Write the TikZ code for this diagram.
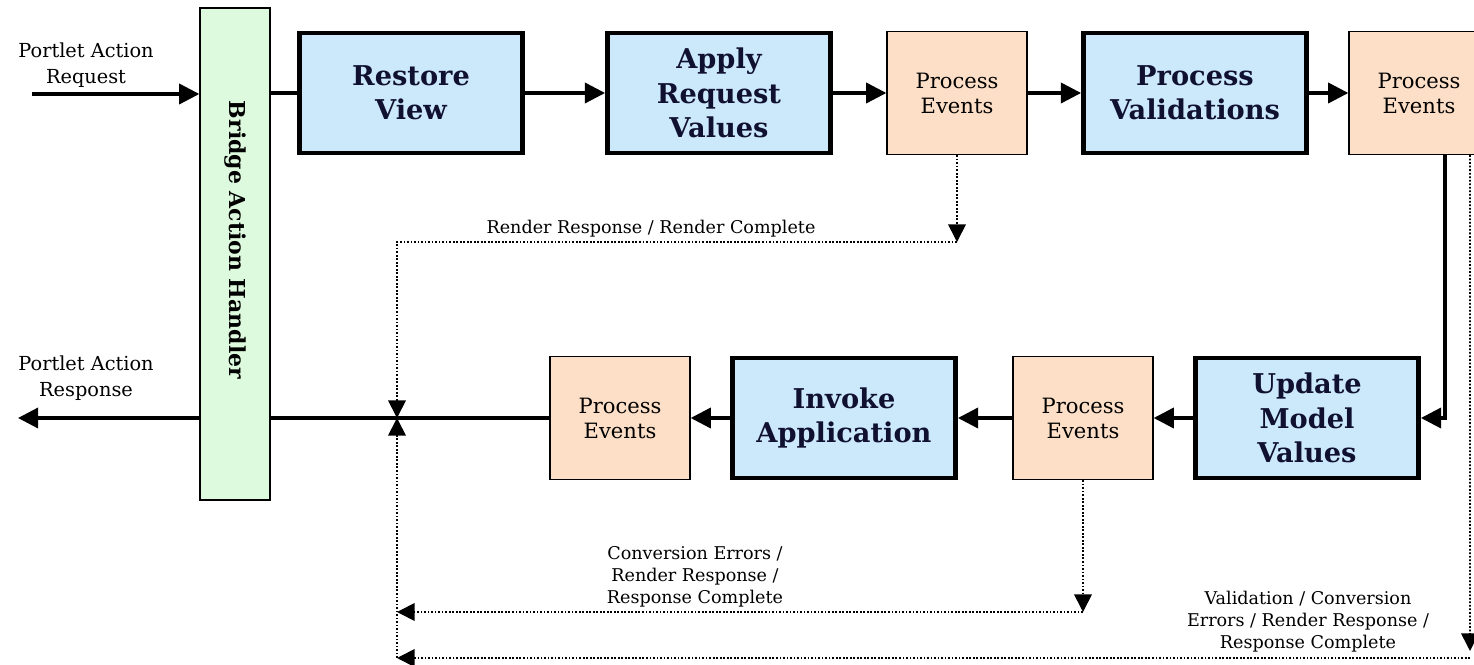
\documentclass[tikz,border=0pt]{standalone}
\usepackage{fontspec}
\setmainfont{DejaVu Serif}
\usetikzlibrary{positioning,arrows.meta,calc}
\definecolor{phaseblue}{RGB}{204,233,252}
\definecolor{evpeach}{RGB}{252,223,198}
\definecolor{bridgegreen}{RGB}{222,250,222}
\definecolor{phasetext}{RGB}{16,16,48}
\tikzset{phase/.style={draw, line width=2.8pt, fill=phaseblue, minimum width=4.46cm, minimum height=2.4cm, inner sep=2pt, align=center, text=phasetext, font=\fontsize{15.5}{19.5}\selectfont\bfseries}}
\tikzset{evbox/.style={draw, line width=0.8pt, fill=evpeach, minimum width=2.8cm, minimum height=2.46cm, align=center, font=\fontsize{12}{14.2}\selectfont}}
\tikzset{bridgebox/.style={draw, line width=0.8pt, fill=bridgegreen, minimum width=1.4cm, minimum height=9.84cm}}
\tikzset{flow/.style={draw, line width=1.8pt}}
\tikzset{arr/.style={flow, -{Triangle[length=11.5pt,width=11.5pt]}}}
\tikzset{dline/.style={draw, line width=1pt, dash pattern=on 1pt off 1pt}}
\tikzset{darr/.style={dline, -{Triangle[length=10pt,width=10pt]}}}
\tikzset{lbl/.style={align=center, font=\fontsize{11}{14.5}\selectfont}}
\tikzset{dlbl/.style={align=center, font=\fontsize{10}{12.5}\selectfont}}

\begin{document}
\begin{tikzpicture}[x=0.02cm, y=-0.02cm]
	\useasboundingbox (0,0) rectangle (1474,665);
	% handler bar
	\node[bridgebox] (BAH) at (235,254) {};
	\node[rotate=-90, font=\fontsize{12.5}{15}\selectfont\bfseries] (BAHtxt) at ([yshift=0.28cm]BAH.center) {Bridge Action Handler};
	% top row
	\node[phase] (RV) at (411,93) {Restore\\View};
	\node[phase] (ARV) at (719,93) {Apply\\Request\\Values};
	\node[evbox] (PE1) at (957,93) {Process\\Events};
	\node[phase] (PV) at (1195,93) {Process\\Validations};
	\node[evbox] (PE2) at (1419,93) {Process\\Events};
	% bottom row
	\node[phase] (UMV) at (1307,418) {Update\\Model\\Values};
	\node[evbox] (PE3) at (1083,418) {Process\\Events};
	\node[phase] (IA) at (844,418) {Invoke\\Application};
	\node[evbox] (PE4) at (620,418) {Process\\Events};

	\node[lbl] (reqlbl) at (86,65) {Portlet Action\\Request};
	\node[lbl] (resplbl) at (86,378) {Portlet Action\\Response};

	\coordinate (req) at (32,94);
	\coordinate (resp) at (18,418);
	\draw[arr] (req) -- (BAH.west |- req);
	\draw[flow] (BAH.east |- RV) -- (RV);
	\draw[arr] (RV) -- (ARV);
	\draw[arr] (ARV) -- (PE1);
	\draw[arr] (PE1) -- (PV);
	\draw[arr] (PV) -- (PE2);
	\draw[arr] ([xshift=0.52cm]PE2.south) |- (UMV.east);
	\draw[arr] (UMV) -- (PE3);
	\draw[arr] (PE3) -- (IA);
	\draw[arr] (IA) -- (PE4);
	\draw[flow] (PE4) -- (BAH.east |- PE4);
	\draw[arr] (BAH.west |- PE4) -- (resp);

	% dotted returns
	\coordinate (spine) at (397,418);
	\coordinate (d1) at (957,242);
	\coordinate (d2) at (1083,612);
	\coordinate (d3) at (1470,651);
	\coordinate (d4) at (1470,658);
	\draw[darr] (PE1.south) -- (d1);
	\draw[darr] (d1) -| (spine);
	\draw[darr] (PE3.south) -- (d2);
	\draw[darr] (d2) -- (d2 -| spine);
	\draw[darr] ([xshift=1.02cm]PE2.south) -- (d3);
	\draw[darr] (d4) -- (d4 -| spine);
	\draw[darr] (d4 -| spine) -- (spine);

	\node[dlbl] (rrlbl) at (651,229) {Render Response / Render Complete};
	\node[dlbl] (celbl) at (695,577) {Conversion Errors /\\Render Response /\\Response Complete};
	\node[dlbl] (vclbl) at (1308,622) {Validation / Conversion\\Errors / Render Response /\\Response Complete};
\end{tikzpicture}
\end{document}
